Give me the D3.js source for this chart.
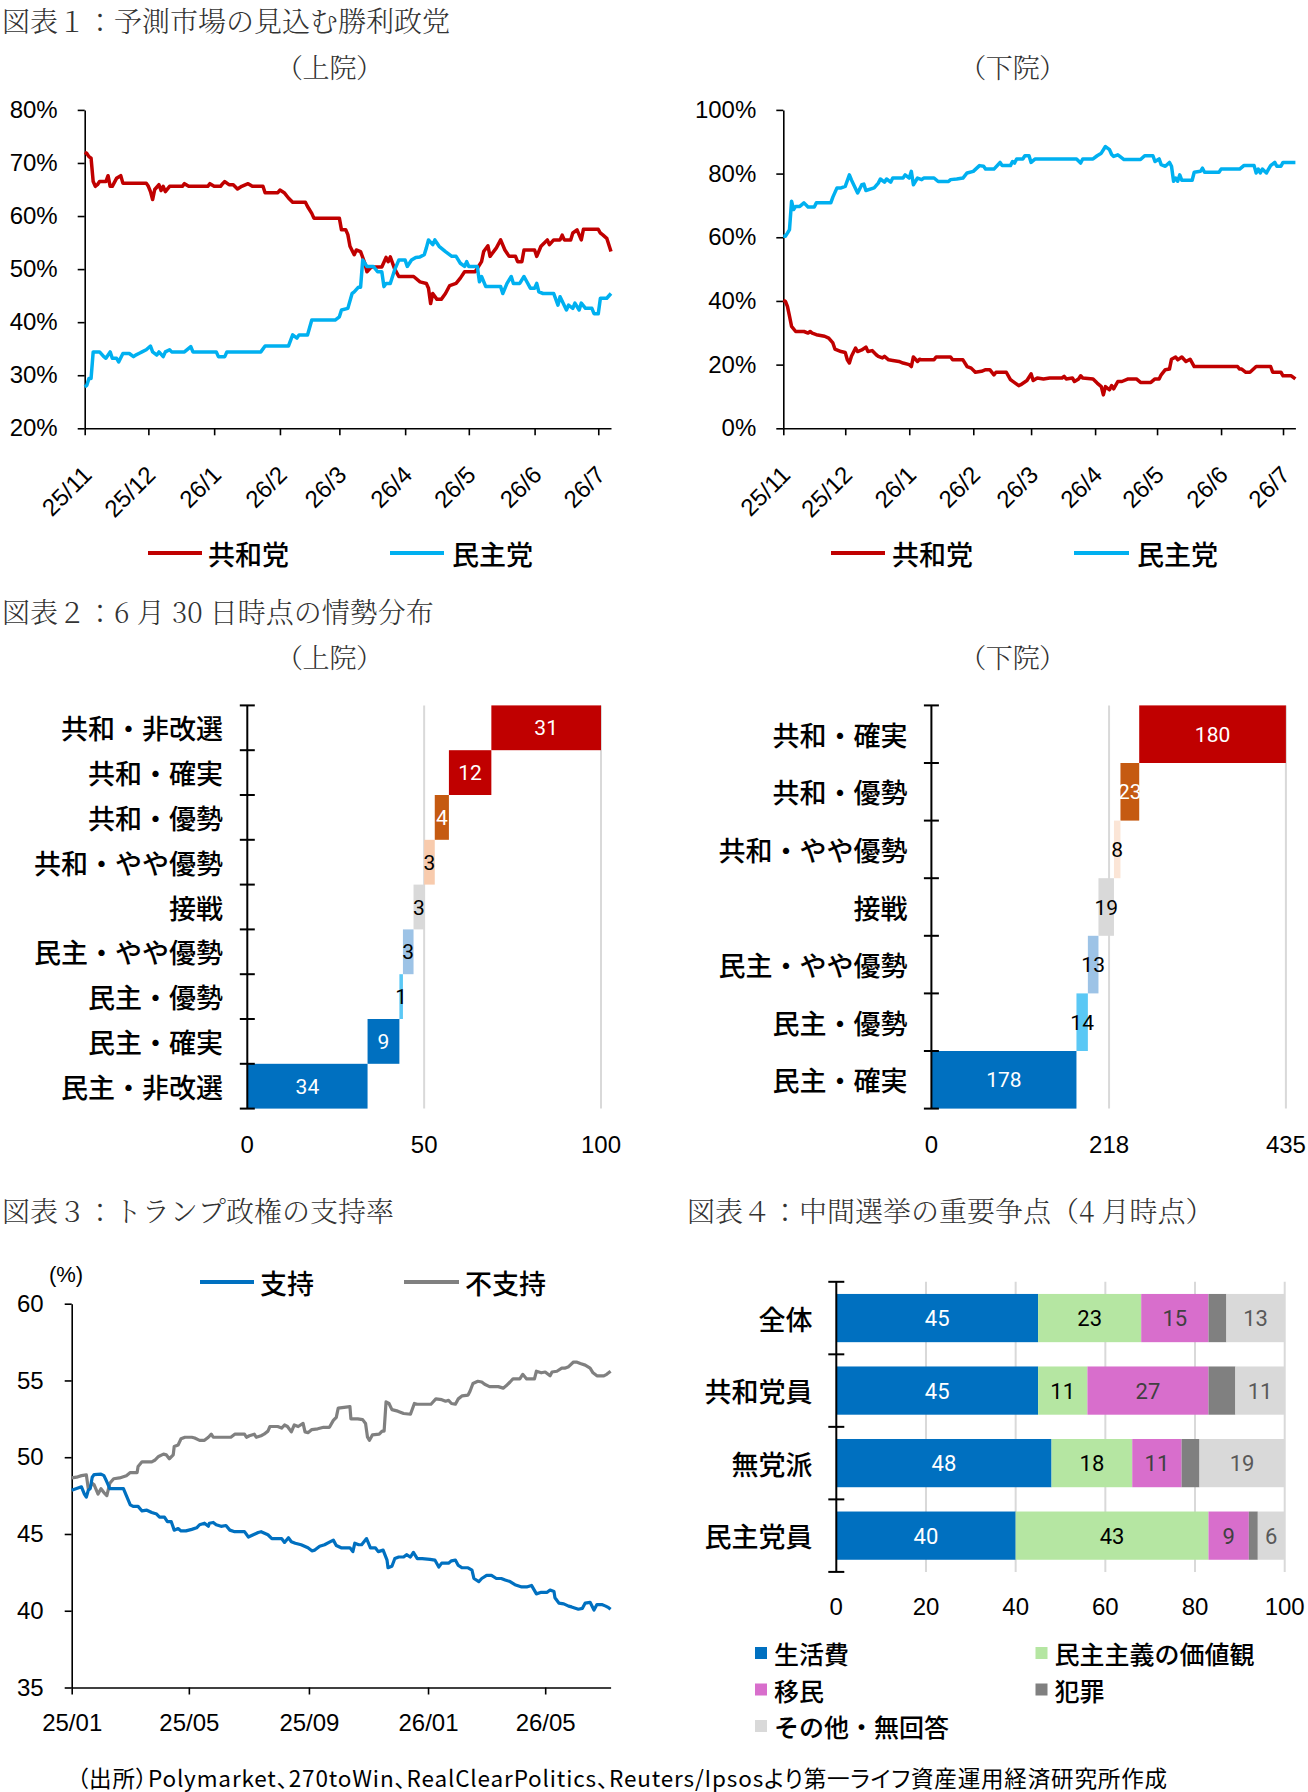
<!DOCTYPE html>
<html>
<head>
<meta charset="utf-8">
<script src="https://cdn.jsdelivr.net/npm/d3@7"></script>
<style>
  body { margin: 0; background: #fff; }
  .jp { font-family: "Noto Sans CJK JP", sans-serif; }
  .ttl { font-family: "Noto Serif CJK JP", "Noto Sans CJK JP", serif; font-weight: 300; fill: #333; }
  .num { font-family: "Liberation Sans", Arial, sans-serif; }
  .lbl { font-family: Roboto, "Liberation Sans", sans-serif; }
</style>
</head>
<body>
<svg id="chart" width="1308" height="1792"></svg>
<script>
// ---- data: figure 1 (prediction markets, %) ----
const senRep = [["2025-11-01",72.0],["2025-11-02",71.8],["2025-11-03",71.2],["2025-11-04",70.9],["2025-11-05",66.5],["2025-11-06",65.6],["2025-11-07",65.9],["2025-11-08",66.5],["2025-11-11",66.5],["2025-11-12",67.6],["2025-11-13",65.6],["2025-11-14",65.6],["2025-11-16",67.1],["2025-11-18",67.6],["2025-11-19",66.2],["2025-11-30",66.2],["2025-12-01",65.6],["2025-12-02",64.6],["2025-12-03",63.1],["2025-12-04",65.0],["2025-12-06",65.9],["2025-12-07",64.8],["2025-12-08",65.6],["2025-12-09",64.6],["2025-12-11",65.6],["2025-12-17",65.6],["2025-12-18",66.1],["2025-12-20",65.6],["2025-12-29",65.6],["2025-12-30",66.1],["2026-01-01",65.6],["2026-01-04",65.6],["2026-01-05",66.1],["2026-01-06",66.5],["2026-01-08",65.9],["2026-01-10",65.9],["2026-01-12",65.1],["2026-01-14",65.6],["2026-01-17",66.1],["2026-01-19",65.6],["2026-01-24",65.6],["2026-01-25",64.4],["2026-01-31",64.4],["2026-02-01",64.9],["2026-02-03",64.4],["2026-02-05",63.4],["2026-02-07",62.6],["2026-02-13",62.6],["2026-02-14",61.8],["2026-02-16",60.5],["2026-02-17",59.6],["2026-03-01",59.6],["2026-03-02",57.4],["2026-03-04",57.4],["2026-03-05",56.5],["2026-03-06",54.3],["2026-03-08",52.7],["2026-03-09",53.6],["2026-03-11",53.3],["2026-03-13",51.1],["2026-03-14",49.5],["2026-03-16",50.4],["2026-03-21",50.4],["2026-03-23",52.2],["2026-03-24",51.4],["2026-03-25",52.3],["2026-03-27",50.1],["2026-03-29",48.6],["2026-04-05",48.6],["2026-04-08",47.6],["2026-04-11",47.3],["2026-04-12",46.4],["2026-04-13",43.5],["2026-04-14",45.4],["2026-04-16",44.3],["2026-04-18",44.3],["2026-04-20",45.4],["2026-04-22",46.9],["2026-04-25",47.3],["2026-04-27",48.3],["2026-04-29",49.5],["2026-05-04",49.5],["2026-05-07",51.4],["2026-05-08",53.3],["2026-05-10",54.4],["2026-05-11",52.4],["2026-05-14",54.0],["2026-05-16",55.5],["2026-05-18",53.6],["2026-05-20",52.4],["2026-05-23",52.4],["2026-05-24",51.4],["2026-05-26",51.4],["2026-05-27",53.6],["2026-06-01",53.6],["2026-06-02",52.4],["2026-06-04",54.3],["2026-06-07",55.5],["2026-06-08",54.6],["2026-06-10",55.5],["2026-06-13",55.5],["2026-06-14",56.4],["2026-06-15",55.5],["2026-06-18",55.5],["2026-06-19",56.8],["2026-06-21",57.4],["2026-06-23",55.5],["2026-06-24",57.5],["2026-07-01",57.5],["2026-07-02",56.8],["2026-07-03",56.5],["2026-07-05",55.8],["2026-07-07",53.3]];
const senDem = [["2025-11-01",27.8],["2025-11-02",28.1],["2025-11-03",29.4],["2025-11-04",29.4],["2025-11-05",34.4],["2025-11-08",34.4],["2025-11-10",33.5],["2025-11-11",33.2],["2025-11-13",34.4],["2025-11-14",33.2],["2025-11-16",33.2],["2025-11-17",32.5],["2025-11-19",34.1],["2025-11-22",34.1],["2025-11-24",33.5],["2025-11-25",33.8],["2025-11-27",34.2],["2025-11-28",34.4],["2025-11-30",34.8],["2025-12-02",35.5],["2025-12-03",34.4],["2025-12-05",33.8],["2025-12-06",34.4],["2025-12-08",33.5],["2025-12-09",34.4],["2025-12-11",34.8],["2025-12-12",34.4],["2025-12-18",34.4],["2025-12-21",35.4],["2025-12-22",34.4],["2026-01-02",34.4],["2026-01-03",33.5],["2026-01-06",33.5],["2026-01-07",34.4],["2026-01-23",34.4],["2026-01-25",35.5],["2026-02-05",35.5],["2026-02-07",37.6],["2026-02-09",37.0],["2026-02-10",37.6],["2026-02-14",37.6],["2026-02-16",40.4],["2026-02-27",40.4],["2026-03-01",41.0],["2026-03-02",42.3],["2026-03-05",42.6],["2026-03-07",45.4],["2026-03-08",45.7],["2026-03-10",46.6],["2026-03-11",46.6],["2026-03-12",51.7],["2026-03-14",50.5],["2026-03-17",50.5],["2026-03-19",49.5],["2026-03-21",49.5],["2026-03-22",46.7],["2026-03-23",47.3],["2026-03-25",47.3],["2026-03-27",49.8],["2026-03-29",51.7],["2026-04-01",51.7],["2026-04-02",50.5],["2026-04-04",51.7],["2026-04-06",52.2],["2026-04-08",52.3],["2026-04-10",52.7],["2026-04-11",54.0],["2026-04-12",55.5],["2026-04-14",54.6],["2026-04-15",55.5],["2026-04-17",54.3],["2026-04-20",53.3],["2026-04-23",52.4],["2026-04-25",52.4],["2026-04-27",51.1],["2026-04-29",50.5],["2026-04-30",51.4],["2026-05-01",50.5],["2026-05-05",50.5],["2026-05-06",47.6],["2026-05-07",48.6],["2026-05-09",46.7],["2026-05-16",46.7],["2026-05-17",45.4],["2026-05-19",47.3],["2026-05-21",48.6],["2026-05-22",47.3],["2026-05-25",47.3],["2026-05-27",48.6],["2026-05-30",46.4],["2026-06-01",46.4],["2026-06-02",47.3],["2026-06-03",45.7],["2026-06-05",45.4],["2026-06-10",45.4],["2026-06-12",43.2],["2026-06-13",44.8],["2026-06-16",42.3],["2026-06-17",43.2],["2026-06-19",42.6],["2026-06-20",43.6],["2026-06-22",42.3],["2026-06-23",43.6],["2026-06-25",42.6],["2026-06-28",42.6],["2026-06-29",41.6],["2026-07-01",41.6],["2026-07-02",44.5],["2026-07-05",44.5],["2026-07-07",45.4]];
const houseRep = [["2025-11-01",40.2],["2025-11-02",39.9],["2025-11-03",38.3],["2025-11-04",35.2],["2025-11-05",32.0],["2025-11-07",30.4],["2025-11-11",30.4],["2025-11-13",29.9],["2025-11-14",30.4],["2025-11-15",29.9],["2025-11-17",29.4],["2025-11-21",28.9],["2025-11-23",28.3],["2025-11-25",26.8],["2025-11-26",24.9],["2025-11-29",24.1],["2025-12-01",23.8],["2025-12-02",21.5],["2025-12-03",20.5],["2025-12-04",22.6],["2025-12-06",25.2],["2025-12-07",24.1],["2025-12-09",24.6],["2025-12-11",25.5],["2025-12-12",24.1],["2025-12-14",24.4],["2025-12-16",23.1],["2025-12-17",22.6],["2025-12-19",22.1],["2025-12-20",22.6],["2025-12-22",21.5],["2025-12-24",21.3],["2025-12-27",21.0],["2025-12-29",20.5],["2026-01-01",20.0],["2026-01-02",19.4],["2026-01-03",22.4],["2026-01-05",21.0],["2026-01-06",21.7],["2026-01-07",21.5],["2026-01-13",21.5],["2026-01-14",22.4],["2026-01-21",22.4],["2026-01-22",21.5],["2026-01-27",21.5],["2026-01-29",19.4],["2026-01-31",18.9],["2026-02-02",17.6],["2026-02-05",17.9],["2026-02-07",18.4],["2026-02-09",18.4],["2026-02-11",16.8],["2026-02-12",17.6],["2026-02-17",17.6],["2026-02-19",15.3],["2026-02-20",14.8],["2026-02-23",13.4],["2026-02-24",13.7],["2026-02-27",15.0],["2026-03-01",17.1],["2026-03-02",15.0],["2026-03-04",15.8],["2026-03-07",15.5],["2026-03-10",15.8],["2026-03-16",15.8],["2026-03-17",16.3],["2026-03-18",15.5],["2026-03-21",15.8],["2026-03-22",14.7],["2026-03-24",15.5],["2026-03-25",16.5],["2026-03-26",15.8],["2026-03-31",15.5],["2026-04-02",14.2],["2026-04-04",13.1],["2026-04-05",10.5],["2026-04-06",13.1],["2026-04-08",12.1],["2026-04-09",13.4],["2026-04-10",12.4],["2026-04-12",14.7],["2026-04-14",14.7],["2026-04-17",15.5],["2026-04-21",15.5],["2026-04-23",14.4],["2026-04-28",14.4],["2026-04-30",15.5],["2026-05-02",15.5],["2026-05-03",16.8],["2026-05-05",18.4],["2026-05-07",18.6],["2026-05-08",21.7],["2026-05-10",22.4],["2026-05-11",21.5],["2026-05-13",22.4],["2026-05-15",21.0],["2026-05-17",21.7],["2026-05-19",19.4],["2026-06-09",19.4],["2026-06-10",18.6],["2026-06-11",18.6],["2026-06-13",17.6],["2026-06-15",17.6],["2026-06-18",19.4],["2026-06-25",19.4],["2026-06-26",17.6],["2026-06-30",17.6],["2026-07-01",16.5],["2026-07-05",16.5],["2026-07-07",15.5]];
const houseDem = [["2025-11-01",60.3],["2025-11-02",60.3],["2025-11-03",61.3],["2025-11-04",62.4],["2025-11-05",71.3],["2025-11-06",68.7],["2025-11-07",69.7],["2025-11-09",69.7],["2025-11-11",70.8],["2025-11-13",69.5],["2025-11-16",69.5],["2025-11-17",70.8],["2025-11-24",70.8],["2025-11-25",72.6],["2025-11-27",75.5],["2025-11-29",75.5],["2025-12-01",76.0],["2025-12-03",79.6],["2025-12-04",78.0],["2025-12-07",73.9],["2025-12-09",76.5],["2025-12-10",76.7],["2025-12-11",74.7],["2025-12-15",75.5],["2025-12-17",77.0],["2025-12-18",78.3],["2025-12-20",77.3],["2025-12-21",78.3],["2025-12-23",77.3],["2025-12-24",78.6],["2025-12-29",78.6],["2025-12-30",79.6],["2026-01-01",78.6],["2026-01-02",80.7],["2026-01-03",76.5],["2026-01-05",78.6],["2026-01-07",78.1],["2026-01-08",78.6],["2026-01-13",78.6],["2026-01-15",77.5],["2026-01-20",77.5],["2026-01-21",78.1],["2026-01-24",78.3],["2026-01-27",78.6],["2026-01-29",80.2],["2026-02-01",80.7],["2026-02-04",82.5],["2026-02-06",82.3],["2026-02-07",81.4],["2026-02-11",81.4],["2026-02-14",83.5],["2026-02-15",82.5],["2026-02-19",82.5],["2026-02-20",83.8],["2026-02-21",83.3],["2026-02-22",84.6],["2026-02-25",84.6],["2026-02-26",85.6],["2026-02-28",85.6],["2026-03-01",83.5],["2026-03-03",84.6],["2026-03-23",84.6],["2026-03-25",83.3],["2026-03-26",84.6],["2026-03-31",84.6],["2026-04-02",85.6],["2026-04-04",86.4],["2026-04-06",88.5],["2026-04-08",87.5],["2026-04-09",86.0],["2026-04-10",85.4],["2026-04-12",85.9],["2026-04-13",85.4],["2026-04-15",84.4],["2026-04-23",84.4],["2026-04-25",85.6],["2026-04-29",85.6],["2026-04-30",83.8],["2026-05-02",84.6],["2026-05-03",82.8],["2026-05-05",82.3],["2026-05-07",83.5],["2026-05-08",82.3],["2026-05-09",77.6],["2026-05-10",78.6],["2026-05-11",77.6],["2026-05-12",79.6],["2026-05-13",77.9],["2026-05-18",77.9],["2026-05-19",80.4],["2026-05-22",80.7],["2026-05-23",81.7],["2026-05-24",80.4],["2026-05-31",80.4],["2026-06-01",81.4],["2026-06-10",81.4],["2026-06-12",82.5],["2026-06-17",82.5],["2026-06-18",80.2],["2026-06-19",81.4],["2026-06-20",80.2],["2026-06-21",81.4],["2026-06-23",80.2],["2026-06-24",81.4],["2026-06-25",82.5],["2026-06-27",83.5],["2026-06-28",82.3],["2026-06-30",82.3],["2026-07-01",83.5],["2026-07-07",83.5]];
const monthTicks = ["2025-11-01","2025-12-01","2026-01-01","2026-02-01","2026-03-01","2026-04-01","2026-05-01","2026-06-01","2026-07-01"];

// ---- data: figure 2 (race ratings, seats) ----
const senCats = ["共和・非改選","共和・確実","共和・優勢","共和・やや優勢","接戦","民主・やや優勢","民主・優勢","民主・確実","民主・非改選"];
const senSeats = [31, 12, 4, 3, 3, 3, 1, 9, 34];
const houseCats = ["共和・確実","共和・優勢","共和・やや優勢","接戦","民主・やや優勢","民主・優勢","民主・確実"];
const houseSeats = [180, 23, 8, 19, 13, 14, 178];

// ---- data: figure 3 (approval, %) ----
const approve = [["2025-01-01",47.85],["2025-01-06",47.96],["2025-01-11",48.07],["2025-01-14",47.6],["2025-01-16",47.4],["2025-01-18",47.85],["2025-01-20",47.96],["2025-01-22",48.7],["2025-01-24",48.87],["2025-01-31",48.9],["2025-02-03",48.8],["2025-02-06",48.4],["2025-02-09",47.96],["2025-02-23",47.96],["2025-02-26",47.5],["2025-03-02",46.9],["2025-03-05",46.8],["2025-03-10",46.8],["2025-03-14",46.5],["2025-03-19",46.55],["2025-03-24",46.4],["2025-03-29",46.3],["2025-04-01",46.1],["2025-04-06",46.1],["2025-04-09",45.8],["2025-04-13",45.8],["2025-04-16",45.25],["2025-04-20",45.35],["2025-04-23",45.2],["2025-04-28",45.2],["2025-05-04",45.3],["2025-05-09",45.4],["2025-05-12",45.6],["2025-05-17",45.7],["2025-05-21",45.5],["2025-05-22",45.7],["2025-05-26",45.75],["2025-05-29",45.6],["2025-06-03",45.5],["2025-06-08",45.55],["2025-06-12",45.25],["2025-06-17",45.15],["2025-06-27",45.15],["2025-07-01",44.8],["2025-07-06",44.95],["2025-07-11",45.1],["2025-07-14",45.15],["2025-07-21",44.95],["2025-07-25",44.7],["2025-08-04",44.7],["2025-08-07",44.45],["2025-08-11",44.75],["2025-08-14",44.5],["2025-08-18",44.4],["2025-08-24",44.3],["2025-08-31",44.1],["2025-09-04",43.9],["2025-09-07",43.95],["2025-09-12",44.2],["2025-09-17",44.3],["2025-09-23",44.5],["2025-09-26",44.6],["2025-09-29",44.25],["2025-10-04",44.1],["2025-10-13",44.1],["2025-10-16",43.85],["2025-10-18",44.4],["2025-10-22",44.3],["2025-10-25",44.3],["2025-10-30",44.7],["2025-11-03",44.1],["2025-11-08",44.1],["2025-11-11",43.85],["2025-11-16",43.95],["2025-11-20",43.3],["2025-11-21",42.8],["2025-11-25",42.9],["2025-11-28",43.4],["2025-12-02",43.5],["2025-12-07",43.5],["2025-12-10",43.65],["2025-12-14",43.5],["2025-12-17",43.8],["2025-12-21",43.4],["2025-12-26",43.4],["2026-01-03",43.35],["2026-01-08",43.3],["2026-01-12",42.85],["2026-01-15",43.1],["2026-01-22",43.1],["2026-01-25",43.25],["2026-01-29",43.3],["2026-02-01",42.95],["2026-02-05",42.8],["2026-02-11",42.8],["2026-02-15",42.65],["2026-02-17",42.1],["2026-02-22",41.9],["2026-02-25",42.1],["2026-03-02",42.3],["2026-03-07",42.3],["2026-03-12",42.1],["2026-03-17",42.1],["2026-03-21",42.0],["2026-03-26",41.9],["2026-03-31",41.7],["2026-04-07",41.55],["2026-04-12",41.55],["2026-04-17",41.65],["2026-04-22",41.1],["2026-04-27",41.2],["2026-05-03",41.2],["2026-05-06",41.35],["2026-05-10",41.25],["2026-05-11",40.85],["2026-05-15",40.5],["2026-05-20",40.45],["2026-05-25",40.3],["2026-05-28",40.25],["2026-06-04",40.1],["2026-06-08",40.15],["2026-06-11",40.5],["2026-06-16",40.55],["2026-06-20",40.05],["2026-06-23",40.4],["2026-06-28",40.4],["2026-07-02",40.3],["2026-07-05",40.2],["2026-07-07",40.1]];
const disapprove = [["2025-01-01",48.65],["2025-01-06",48.7],["2025-01-11",48.8],["2025-01-16",48.85],["2025-01-18",47.95],["2025-01-19",47.95],["2025-01-22",48.3],["2025-01-24",48.2],["2025-01-28",47.6],["2025-01-31",47.95],["2025-02-03",47.7],["2025-02-06",47.5],["2025-02-09",48.3],["2025-02-13",48.6],["2025-02-19",48.65],["2025-02-26",48.8],["2025-03-02",49.0],["2025-03-09",49.0],["2025-03-10",49.4],["2025-03-14",49.7],["2025-03-24",49.7],["2025-03-27",49.8],["2025-03-31",50.05],["2025-04-05",50.2],["2025-04-08",50.15],["2025-04-11",49.9],["2025-04-15",50.15],["2025-04-16",50.7],["2025-04-20",50.8],["2025-04-23",51.2],["2025-04-27",51.3],["2025-05-04",51.3],["2025-05-07",51.25],["2025-05-12",51.1],["2025-05-17",51.1],["2025-05-21",51.3],["2025-05-24",51.5],["2025-05-26",51.3],["2025-06-13",51.3],["2025-06-17",51.5],["2025-06-27",51.5],["2025-06-29",51.3],["2025-07-02",51.4],["2025-07-07",51.5],["2025-07-09",51.3],["2025-07-14",51.4],["2025-07-17",51.5],["2025-07-21",51.7],["2025-07-23",52.0],["2025-07-31",52.0],["2025-08-04",51.9],["2025-08-07",52.1],["2025-08-10",52.0],["2025-08-14",51.65],["2025-08-17",52.1],["2025-08-21",52.0],["2025-08-26",52.2],["2025-08-28",51.65],["2025-08-31",51.6],["2025-09-04",51.8],["2025-09-10",51.85],["2025-09-16",51.95],["2025-09-22",51.95],["2025-09-26",52.4],["2025-09-29",52.6],["2025-10-01",53.2],["2025-10-13",53.3],["2025-10-14",52.5],["2025-10-21",52.5],["2025-10-26",52.45],["2025-10-29",52.2],["2025-10-31",51.3],["2025-11-02",51.1],["2025-11-05",51.45],["2025-11-12",51.5],["2025-11-15",51.7],["2025-11-17",51.7],["2025-11-19",53.6],["2025-11-22",53.5],["2025-11-25",53.1],["2025-12-01",53.0],["2025-12-07",52.85],["2025-12-14",52.8],["2025-12-18",53.5],["2025-12-21",53.45],["2026-01-04",53.45],["2026-01-09",53.8],["2026-01-15",53.75],["2026-01-19",53.65],["2026-01-22",53.7],["2026-01-25",53.5],["2026-01-29",53.45],["2026-02-01",53.8],["2026-02-05",54.0],["2026-02-11",54.05],["2026-02-13",54.3],["2026-02-16",54.8],["2026-02-21",54.95],["2026-02-25",54.9],["2026-02-28",54.75],["2026-03-05",54.6],["2026-03-14",54.6],["2026-03-19",54.5],["2026-03-22",54.65],["2026-03-26",54.9],["2026-03-29",55.1],["2026-04-05",55.1],["2026-04-08",55.4],["2026-04-12",55.1],["2026-04-20",55.1],["2026-04-22",55.6],["2026-04-27",55.5],["2026-05-01",55.55],["2026-05-06",55.3],["2026-05-08",55.55],["2026-05-13",55.6],["2026-05-18",55.8],["2026-05-21",55.8],["2026-05-25",55.9],["2026-05-30",56.2],["2026-06-02",56.2],["2026-06-06",56.1],["2026-06-11",56.0],["2026-06-16",55.8],["2026-06-19",55.5],["2026-06-23",55.3],["2026-06-30",55.3],["2026-07-03",55.4],["2026-07-07",55.6]];
const pollTicks = ["2025-01-01","2025-05-01","2025-09-01","2026-01-01","2026-05-01"];

// ---- data: figure 4 (key issues, %) ----
const groups = ["全体","共和党員","無党派","民主党員"];
const issues = ["生活費","民主主義の価値観","移民","犯罪","その他・無回答"];
const costOfLiving = [45, 45, 48, 40];
const democracy = [23, 11, 18, 43];
const immigration = [15, 27, 11, 9];
const crime = [4, 6, 4, 2];
const otherNone = [13, 11, 19, 6];

const parse = d3.timeParse("%Y-%m-%d");
const svg = d3.select("#chart");
const JP = "jp", NUM = "num";
const LABEL_W = 500; // weight of category / legend text

function title(t, x, y) {
  svg.append("text").attr("class", "ttl").attr("x", x).attr("y", y)
    .attr("dominant-baseline", "central").attr("font-size", 28).text(t);
}
function subtitle(t, x, y) {
  svg.append("text").attr("class", "ttl").attr("x", x).attr("y", y)
    .attr("text-anchor", "middle").attr("dominant-baseline", "central")
    .style("font-feature-settings", "'palt'")
    .attr("font-size", 27).text(t);
}
function styleAxis(sel, size) {
  sel.selectAll("path,line").attr("stroke", "#000").attr("stroke-width", 1.6);
  sel.selectAll("text").attr("class", NUM).attr("font-size", size).attr("fill", "#000");
  sel.attr("font-family", null);
}
function lineLegend(items, y) {
  items.forEach(it => {
    svg.append("line").attr("x1", it.x1).attr("x2", it.x2).attr("y1", y).attr("y2", y)
      .attr("stroke", it.color).attr("stroke-width", 4);
    svg.append("text").attr("class", JP).attr("x", it.tx).attr("y", y)
      .attr("dominant-baseline", "central").attr("font-size", 27).attr("font-weight", LABEL_W)
      .text(it.name);
  });
}

// time-series panel
function lineChart(o) {
  const x = d3.scaleTime().domain(o.xDomain.map(parse)).range([o.x0, o.x1]);
  const y = d3.scaleLinear().domain(o.yDomain).range([o.y1, o.y0]);
  const g = svg.append("g");

  const ya = g.append("g").attr("transform", `translate(${o.x0},0)`)
    .call(d3.axisLeft(y).tickValues(o.yTicks).tickSize(7).tickSizeOuter(0)
      .tickPadding(o.yPad).tickFormat(o.yFormat));
  styleAxis(ya, 24);

  const xa = g.append("g").attr("transform", `translate(0,${o.y1})`)
    .call(d3.axisBottom(x).tickValues(o.xTicks.map(parse)).tickSize(7).tickSizeOuter(0)
      .tickFormat(d3.timeFormat(o.xFormat)));
  styleAxis(xa, 24);
  if (o.rotate) {
    xa.selectAll(".tick text").attr("y", 0).attr("dy", 0).attr("x", 0)
      .attr("text-anchor", "end").attr("transform", "translate(8,48) rotate(-45)");
  } else {
    xa.selectAll(".tick text").attr("y", 35).attr("dy", "0.35em");
  }

  const line = d3.line().x(d => x(parse(d[0]))).y(d => y(d[1]));
  o.series.forEach(s => {
    g.append("path").datum(s.data).attr("d", line).attr("fill", "none")
      .attr("stroke", s.color).attr("stroke-width", o.lw).attr("stroke-linejoin", "round");
  });
}

// stepped seat distribution
function waterfall(o) {
  const x = d3.scaleLinear().domain([0, o.total]).range([o.x0, o.x1]);
  const y = d3.scaleBand().domain(o.cats).range([o.y0, o.y1]).padding(0);
  const starts = [];
  let acc = 0;
  for (let i = o.values.length - 1; i >= 0; i--) { starts[i] = acc; acc += o.values[i]; }
  const g = svg.append("g");

  g.selectAll(".grid").data(o.grid).join("line")
    .attr("x1", d => x(d)).attr("x2", d => x(d)).attr("y1", o.y0).attr("y2", o.y1)
    .attr("stroke", "#d9d9d9").attr("stroke-width", 2);

  g.selectAll(".bar").data(o.cats).join("rect")
    .attr("x", (d, i) => x(starts[i])).attr("y", d => y(d))
    .attr("width", (d, i) => x(starts[i] + o.values[i]) - x(starts[i]))
    .attr("height", y.bandwidth()).attr("fill", (d, i) => o.colors[i]);

  g.selectAll(".val").data(o.cats).join("text").attr("class", "lbl")
    .attr("x", (d, i) => x(starts[i] + o.values[i] / 2)).attr("y", d => y(d) + y.bandwidth() / 2)
    .attr("dy", "0.36em").attr("text-anchor", "middle").attr("font-size", 21)
    .attr("fill", (d, i) => o.labelColors[i]).text((d, i) => o.values[i]);

  // category axis with ticks between bands
  g.append("line").attr("x1", o.x0).attr("x2", o.x0).attr("y1", o.y0).attr("y2", o.y1)
    .attr("stroke", "#000").attr("stroke-width", 2);
  g.selectAll(".tk").data(d3.range(o.cats.length + 1)).join("line")
    .attr("x1", o.x0 - 7.5).attr("x2", o.x0 + 7.5)
    .attr("y1", d => o.y0 + d * y.step()).attr("y2", d => o.y0 + d * y.step())
    .attr("stroke", "#000").attr("stroke-width", 2);

  g.selectAll(".cat").data(o.cats).join("text").attr("class", JP)
    .attr("x", o.labelX).attr("y", d => y(d) + y.bandwidth() / 2)
    .attr("dominant-baseline", "central").attr("text-anchor", "end")
    .attr("font-size", 27).attr("font-weight", LABEL_W).text(d => d);

  g.selectAll(".xt").data(o.xTicks).join("text").attr("class", NUM)
    .attr("x", d => x(d)).attr("y", o.xLabelY).attr("dy", "0.35em")
    .attr("text-anchor", "middle").attr("font-size", 24).text(d => d);
}

// ---------- figure 1 ----------
title("図表１：予測市場の見込む勝利政党", 2, 20);
subtitle("（上院）", 329.5, 66.6);
subtitle("（下院）", 1012.7, 66.6);

lineChart({
  x0: 84.7, x1: 611, y0: 109.9, y1: 428.3,
  xDomain: ["2025-11-01", "2026-07-07"], yDomain: [20, 80],
  yTicks: [20, 30, 40, 50, 60, 70, 80], yFormat: d => d + "%", yPad: 20,
  xTicks: monthTicks, xFormat: "%y/%-m", rotate: true, lw: 3.5,
  series: [{ data: senRep, color: "#c00000" }, { data: senDem, color: "#00b0f0" }]
});
lineChart({
  x0: 783.3, x1: 1295.4, y0: 109.9, y1: 428.3,
  xDomain: ["2025-11-01", "2026-07-07"], yDomain: [0, 100],
  yTicks: [0, 20, 40, 60, 80, 100], yFormat: d => d + "%", yPad: 20,
  xTicks: monthTicks, xFormat: "%y/%-m", rotate: true, lw: 3.5,
  series: [{ data: houseRep, color: "#c00000" }, { data: houseDem, color: "#00b0f0" }]
});
lineLegend([
  { x1: 148, x2: 202, tx: 208, color: "#c00000", name: "共和党" },
  { x1: 390, x2: 444, tx: 452, color: "#00b0f0", name: "民主党" }
], 553);
lineLegend([
  { x1: 831, x2: 885, tx: 892, color: "#c00000", name: "共和党" },
  { x1: 1074, x2: 1129, tx: 1137, color: "#00b0f0", name: "民主党" }
], 553);

// ---------- figure 2 ----------
title("図表２：6 月 30 日時点の情勢分布", 2, 611);
subtitle("（上院）", 329.5, 656.6);
subtitle("（下院）", 1012.7, 656.6);

waterfall({
  cats: senCats, values: senSeats, total: 100,
  x0: 247.3, x1: 601, y0: 705.4, y1: 1108.6, labelX: 223,
  grid: [50, 100], xTicks: [0, 50, 100], xLabelY: 1145,
  colors: ["#c00000", "#c00000", "#c55a11", "#f8cbad", "#d9d9d9", "#9dc3e6", "#5bc8f5", "#0070c0", "#0070c0"],
  labelColors: ["#fff", "#fff", "#fff", "#000", "#000", "#000", "#000", "#fff", "#fff"]
});
waterfall({
  cats: houseCats, values: houseSeats, total: 435,
  x0: 931.4, x1: 1285.9, y0: 705.4, y1: 1108.6, labelX: 907.5,
  grid: [218, 435], xTicks: [0, 218, 435], xLabelY: 1145,
  colors: ["#c00000", "#c55a11", "#fbe5d6", "#d9d9d9", "#9dc3e6", "#5bc8f5", "#0070c0"],
  labelColors: ["#fff", "#fff", "#000", "#000", "#000", "#000", "#fff"]
});

// ---------- figure 3 ----------
title("図表３：トランプ政権の支持率", 2, 1210);
lineChart({
  x0: 71.7, x1: 610.6, y0: 1303.7, y1: 1687.5,
  xDomain: ["2025-01-01", "2026-07-07"], yDomain: [35, 60],
  yTicks: [35, 40, 45, 50, 55, 60], yFormat: d => d, yPad: 21,
  xTicks: pollTicks, xFormat: "%y/%m", rotate: false, lw: 3.2,
  series: [{ data: disapprove, color: "#808080" }, { data: approve, color: "#0070c0" }]
});
svg.append("text").attr("class", NUM).attr("x", 66).attr("y", 1274).attr("dy", "0.35em")
  .attr("text-anchor", "middle").attr("font-size", 22).text("(%)");
lineLegend([
  { x1: 200, x2: 254, tx: 260, color: "#0070c0", name: "支持" },
  { x1: 404, x2: 459, tx: 465, color: "#808080", name: "不支持" }
], 1282);

// ---------- figure 4 ----------
title("図表４：中間選挙の重要争点（4 月時点）", 687, 1210);
{
  const x = d3.scaleLinear().domain([0, 100]).range([836.3, 1284.7]);
  const y = d3.scaleBand().domain(groups).range([1281.8, 1571.9]).paddingInner(0.335).paddingOuter(0.1675);
  const cols = ["#0070c0", "#b5e6a2", "#d86ecc", "#808080", "#d9d9d9"];
  const txtCols = ["#fff", "#000", "#404040", null, "#595959"];
  const table = groups.map((gname, i) => {
    const row = { group: gname };
    [costOfLiving, democracy, immigration, crime, otherNone].forEach((arr, k) => row[issues[k]] = arr[i]);
    return row;
  });
  const stack = d3.stack().keys(issues)(table);
  const g = svg.append("g");

  g.selectAll(".grid").data([20, 40, 60, 80, 100]).join("line")
    .attr("x1", d => x(d)).attr("x2", d => x(d)).attr("y1", 1281.8).attr("y2", 1571.9)
    .attr("stroke", "#d9d9d9").attr("stroke-width", 2);

  stack.forEach((layer, k) => {
    g.append("g").selectAll("rect").data(layer).join("rect")
      .attr("x", d => x(d[0])).attr("width", d => x(d[1]) - x(d[0]))
      .attr("y", d => y(d.data.group)).attr("height", y.bandwidth()).attr("fill", cols[k]);
    if (txtCols[k]) {
      g.append("g").selectAll("text").data(layer).join("text").attr("class", "lbl")
        .attr("x", d => x((d[0] + d[1]) / 2)).attr("y", d => y(d.data.group) + y.bandwidth() / 2)
        .attr("dy", "0.36em").attr("text-anchor", "middle").attr("font-size", 22)
        .attr("fill", txtCols[k]).text(d => d[1] - d[0]);
    }
  });

  g.append("line").attr("x1", x(0)).attr("x2", x(0)).attr("y1", 1281.8).attr("y2", 1571.9)
    .attr("stroke", "#000").attr("stroke-width", 2);
  g.selectAll(".tk").data(d3.range(groups.length + 1)).join("line")
    .attr("x1", x(0) - 8).attr("x2", x(0) + 8)
    .attr("y1", d => 1281.8 + d * y.step()).attr("y2", d => 1281.8 + d * y.step())
    .attr("stroke", "#000").attr("stroke-width", 2);

  g.selectAll(".cat").data(groups).join("text").attr("class", JP)
    .attr("x", 812.5).attr("y", d => y(d) + y.bandwidth() / 2)
    .attr("dominant-baseline", "central").attr("text-anchor", "end")
    .attr("font-size", 27).attr("font-weight", LABEL_W).text(d => d);

  g.selectAll(".xt").data([0, 20, 40, 60, 80, 100]).join("text").attr("class", NUM)
    .attr("x", d => x(d)).attr("y", 1607).attr("dy", "0.35em")
    .attr("text-anchor", "middle").attr("font-size", 24).text(d => d);

  // legend (three rows, two columns)
  const legPos = [[755, 1653], [1035.5, 1653], [755, 1689.5], [1035.5, 1689.5], [755, 1726]];
  issues.forEach((name, k) => {
    const [lx, ly] = legPos[k];
    g.append("rect").attr("x", lx).attr("y", ly - 6).attr("width", 12).attr("height", 12).attr("fill", cols[k]);
    g.append("text").attr("class", JP).attr("x", lx + 19).attr("y", ly)
      .attr("dominant-baseline", "central").attr("font-size", 25).attr("font-weight", LABEL_W).text(name);
  });
}

// source
svg.append("text").attr("class", JP).attr("x", 77).attr("y", 1777)
  .attr("dominant-baseline", "central").attr("font-size", 22.5)
  .style("font-feature-settings", "'palt'")
  .attr("textLength", 1090).attr("lengthAdjust", "spacing")
  .text("（出所）Polymarket、270toWin、RealClearPolitics、Reuters/Ipsosより第一ライフ資産運用経済研究所作成");
</script>
</body>
</html>
